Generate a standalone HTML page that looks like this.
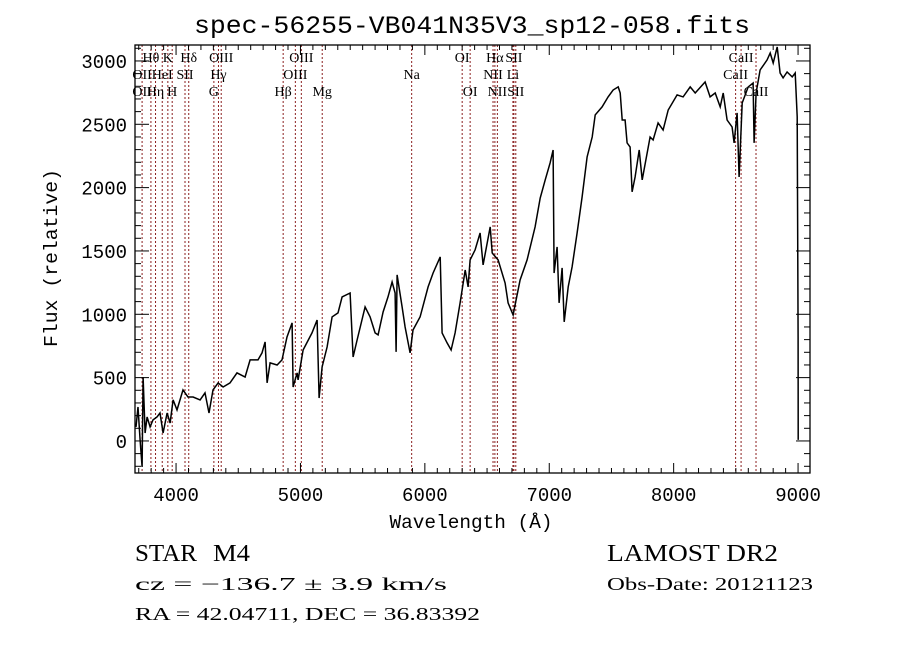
<!DOCTYPE html>
<html><head><meta charset="utf-8"><style>
html,body{margin:0;padding:0;background:#fff;}
svg{display:block;}
text{fill:#000;}
.mono{font-family:"Liberation Mono",monospace;}
.serif{font-family:"Liberation Serif",serif;}
</style></head><body>
<svg id="chart" width="900" height="649" viewBox="0 0 900 649" xmlns="http://www.w3.org/2000/svg">
<rect width="900" height="649" fill="#fff"/>
<text x="472" y="33" text-anchor="middle" font-size="25" textLength="556" lengthAdjust="spacingAndGlyphs" class="mono">spec-56255-VB041N35V3_sp12-058.fits</text>
<g id="lines"></g>
<g id="labels"></g>
<path id="spec" fill="none" stroke="#000" stroke-width="1.5"/>
<g id="axes"></g>
<text x="471" y="528" text-anchor="middle" font-size="19" textLength="163" lengthAdjust="spacingAndGlyphs" class="mono">Wavelength (Å)</text>
<text transform="translate(57,258) rotate(-90)" text-anchor="middle" font-size="19" textLength="178" lengthAdjust="spacingAndGlyphs" class="mono">Flux (relative)</text>
<text x="135" y="561" font-size="24" textLength="62" lengthAdjust="spacingAndGlyphs" class="serif">STAR</text>
<text x="213" y="561" font-size="24" textLength="37" lengthAdjust="spacingAndGlyphs" class="serif">M4</text>
<text x="607" y="561" font-size="24" textLength="171" lengthAdjust="spacingAndGlyphs" class="serif">LAMOST DR2</text>
<text x="135" y="590" font-size="18" textLength="312" lengthAdjust="spacingAndGlyphs" class="serif">cz = −136.7 ± 3.9 km/s</text>
<text x="607" y="590" font-size="18" textLength="206" lengthAdjust="spacingAndGlyphs" class="serif">Obs-Date: 20121123</text>
<text x="135" y="620" font-size="18" textLength="345" lengthAdjust="spacingAndGlyphs" class="serif">RA =  42.04711, DEC =  36.83392</text>
</svg>
<script>
const wavelengths=[3678,3694,3711,3727,3735,3751,3767,3791,3815,3847,3871,3896,3928,3952,3976,4008,4056,4096,4137,4193,4233,4265,4297,4338,4378,4434,4490,4555,4595,4659,4691,4716,4732,4756,4812,4852,4892,4933,4941,4973,4981,5021,5093,5134,5150,5174,5214,5254,5302,5335,5399,5423,5455,5520,5560,5600,5624,5664,5704,5737,5761,5769,5777,5817,5841,5881,5905,5962,6026,6066,6123,6139,6179,6211,6243,6283,6324,6348,6364,6404,6444,6468,6525,6541,6589,6645,6669,6709,6766,6822,6886,6927,6967,7007,7031,7039,7063,7079,7103,7120,7152,7184,7224,7264,7304,7345,7369,7425,7473,7513,7554,7570,7586,7610,7626,7650,7666,7690,7723,7747,7811,7835,7875,7915,7956,8028,8076,8133,8173,8253,8293,8334,8374,8398,8430,8470,8486,8510,8526,8551,8599,8639,8647,8663,8695,8751,8776,8800,8832,8856,8880,8912,8953,8977,8993,9000,9001];
const fluxes=[111,268,8,-205,505,63,189,111,166,189,221,63,221,142,324,245,403,347,347,324,379,221,403,458,426,458,537,505,640,640,695,782,458,616,600,640,821,932,426,537,482,718,853,955,339,584,742,979,1011,1137,1168,663,797,1058,979,853,837,1018,1137,1255,1168,703,1311,1058,900,695,876,979,1216,1326,1453,853,774,718,853,1090,1350,1216,1429,1508,1642,1390,1690,1484,1429,1247,1090,995,1271,1429,1690,1918,2061,2195,2297,1326,1532,1090,1366,940,1216,1374,1642,1926,2242,2400,2574,2637,2716,2771,2795,2747,2534,2534,2353,2321,1966,2084,2297,2061,2400,2376,2511,2455,2613,2732,2716,2795,2747,2834,2716,2747,2637,2747,2534,2479,2353,2590,2084,2669,2795,2826,2353,2747,2929,3008,3063,2984,3111,2905,2866,2913,2874,2905,2558,821,8];
const lineWaves=[3727,3798,3835,3889,3934,3969,4072,4102,4304,4341,4363,4861,4959,5007,5175,5894,6300,6364,6548,6563,6583,6708,6716,6731,8498,8542,8662];
const labelText=["Hθ","K","Hδ","OIII","OIII","OI","Hα","SII","CaII","OII","HeI","SII","Hγ","OIII","Na","NII","Li","CaII","OII","Hη","H","G","Hβ","Mg","OI","NII","SII","CaII"];
const labelWave=[3798,3934,4102,4363,5007,6300,6563,6716,8542,3727,3889,4072,4341,4959,5894,6548,6708,8498,3727,3835,3969,4304,4861,5175,6364,6583,6731,8662];
const labelRow=[0,0,0,0,0,0,0,0,0,1,1,1,1,1,1,1,1,1,2,2,2,2,2,2,2,2,2,2];
const xTicks=[4000,5000,6000,7000,8000,9000];
const yTicks=[0,500,1000,1500,2000,2500,3000];
const X0=135,X1=810,Y0=45,Y1=473;
const xmin=3670,xmax=9096,ymin=-253,ymax=3126;
const sx=w=>X0+(w-xmin)/(xmax-xmin)*(X1-X0);
const sy=f=>Y1-(f-ymin)/(ymax-ymin)*(Y1-Y0);
const NS="http://www.w3.org/2000/svg";
function mk(tag,attrs,parent){const e=document.createElementNS(NS,tag);for(const k in attrs)e.setAttribute(k,attrs[k]);parent.appendChild(e);return e;}
let d="";
wavelengths.forEach((w,i)=>{d+=(i?"L":"M")+sx(w).toFixed(1)+" "+sy(fluxes[i]).toFixed(1);});
document.getElementById("spec").setAttribute("d",d);
const lg=document.getElementById("lines");
lineWaves.forEach(w=>{
  const l=mk("line",{x1:sx(w),x2:sx(w),y1:Y0,y2:Y1,stroke:"#8b2020","stroke-width":"1","stroke-dasharray":"2,2"},lg);
  
  
});
const lb=document.getElementById("labels");
labelText.forEach((t,i)=>{
  const e=mk("text",{x:sx(labelWave[i]),y:62+labelRow[i]*17,"text-anchor":"middle","font-size":"14",class:"serif"},lb);
  e.textContent=t;
  
  
});
const ax=document.getElementById("axes");
mk("rect",{x:X0,y:Y0,width:X1-X0,height:Y1-Y0,fill:"none",stroke:"#000","stroke-width":"1.3"},ax);
for(let w=3700;w<=9000;w+=100){
  const big=w%1000===0;const len=big?10:5;const x=sx(w);
  mk("line",{x1:x,x2:x,y1:Y1,y2:Y1-len,stroke:"#000"},ax);
  mk("line",{x1:x,x2:x,y1:Y0,y2:Y0+len,stroke:"#000"},ax);
}
xTicks.forEach(w=>{
  const t=mk("text",{x:sx(w),y:501,"text-anchor":"middle","font-size":"19",class:"mono"},ax);
  t.textContent=w;
  
  
});
for(let f=-200;f<=3100;f+=100){
  const big=f%500===0;const len=big?14:6;const y=sy(f);
  mk("line",{x1:X0,x2:X0+len,y1:y,y2:y,stroke:"#000"},ax);
  mk("line",{x1:X1,x2:X1-len,y1:y,y2:y,stroke:"#000"},ax);
}
yTicks.forEach(f=>{
  const t=mk("text",{x:127,y:sy(f)+7,"text-anchor":"end","font-size":"19",class:"mono"},ax);
  t.textContent=f;
  
  
});
</script>
</body></html>
